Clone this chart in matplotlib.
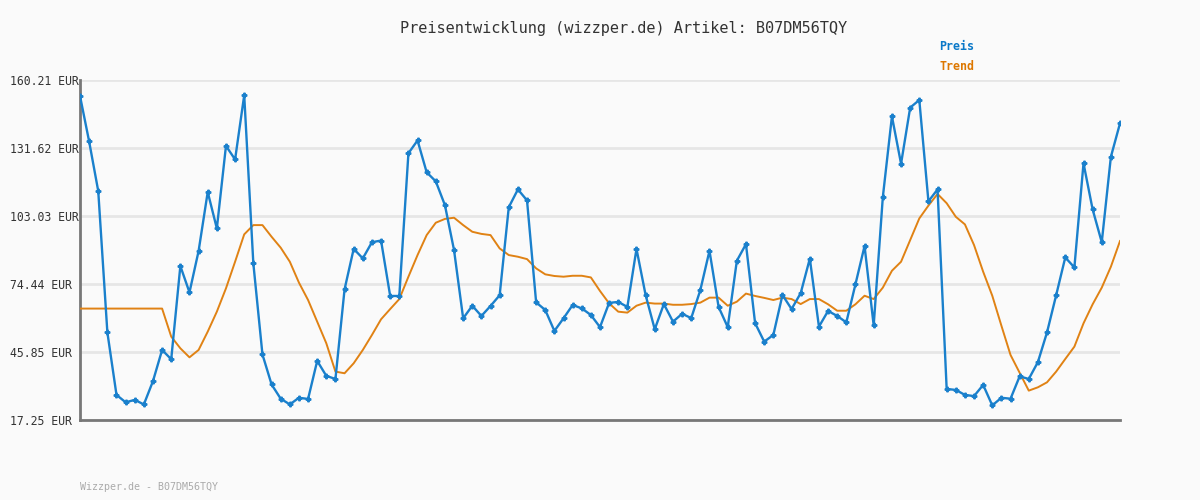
import matplotlib
matplotlib.use("Agg")
import matplotlib.pyplot as plt
import numpy as np

# price history (EUR)
preis = [153.5, 134.4, 113.5, 54.1, 27.8, 24.7, 25.7, 23.8, 33.6, 46.7,
         42.8, 82.0, 70.9, 88.3, 113.1, 97.8, 132.5, 126.8, 153.8, 83.1,
         44.8, 32.2, 26.2, 23.8, 26.6, 26.1, 42.1, 35.8, 34.5, 72.2,
         89.2, 85.2, 92.0, 92.7, 69.4, 69.4, 129.4, 134.8, 121.4, 117.6,
         107.6, 88.7, 60.0, 65.3, 61.0, 65.2, 69.7, 106.7, 114.2, 109.6,
         66.7, 63.5, 54.7, 60.0, 65.6, 64.2, 61.4, 56.3, 66.5, 66.9,
         64.8, 89.2, 69.8, 55.4, 66.0, 58.6, 61.9, 60.1, 71.9, 88.4,
         64.8, 56.3, 84.2, 91.2, 58.0, 50.2, 53.0, 69.8, 63.9, 70.6,
         85.1, 56.5, 63.1, 61.0, 58.3, 74.3, 90.4, 57.0, 110.9, 144.9,
         125.0, 148.6, 151.8, 109.2, 114.2, 30.3, 29.9, 27.8, 27.3, 32.0,
         23.4, 26.6, 26.2, 35.6, 34.5, 41.6, 54.1, 69.7, 85.6, 81.4,
         125.2, 105.8, 92.0, 127.9, 142.0]

trend = [64.1, 64.1, 64.1, 64.1, 64.1, 64.1, 64.1, 64.1, 64.1, 64.1,
         52.3, 47.4, 43.6, 46.7, 54.4, 62.8, 72.6, 83.8, 95.3, 99.2,
         99.2, 94.3, 89.7, 83.8, 75.0, 67.7, 58.6, 49.5, 37.6, 36.9,
         41.1, 46.7, 53.0, 59.6, 63.9, 68.1, 77.5, 86.6, 95.0, 100.2,
         101.8, 102.3, 99.2, 96.4, 95.5, 95.0, 89.4, 86.6, 85.9, 84.9,
         81.0, 78.5, 77.8, 77.5, 77.9, 77.9, 77.2, 71.5, 66.3, 62.8,
         62.4, 65.3, 66.6, 66.2, 66.2, 65.7, 65.7, 66.0, 66.6, 68.7,
         68.7, 65.3, 67.0, 70.4, 69.4, 68.6, 67.7, 68.7, 68.1, 66.0,
         68.1, 68.1, 65.9, 63.2, 63.2, 65.9, 69.5, 68.1, 72.9, 80.0,
         83.8, 92.9, 102.0, 107.4, 112.3, 108.4, 102.7, 99.5, 90.8, 79.6,
         69.5, 56.9, 44.6, 37.1, 29.6, 31.0, 33.1, 37.6, 42.9, 48.1,
         57.9, 65.9, 72.9, 81.7, 92.5]

y_ticks = [17.25, 45.85, 74.44, 103.03, 131.62, 160.21]
y_labels = ["%.2f EUR" % v for v in y_ticks]

artikel = "B07DM56TQY"

bg = "#fafafa"
blue = "#1a80cc"
orange = "#e08214"

plt.rcParams['font.family'] = ['DejaVu Sans Mono']

fig = plt.figure(figsize=(12, 5), dpi=100, facecolor=bg)
ax = fig.add_axes([80 / 1200, 80 / 500, 1040 / 1200, 340 / 500])
ax.set_facecolor(bg)

x = np.arange(len(preis))
ax.plot(x, trend, color=orange, lw=1.4, zorder=3)
ax.plot(x, preis, color=blue, lw=1.7, marker='P', ms=3.3, zorder=4)

ax.set_xlim(0, len(preis) - 1)
ax.set_ylim(y_ticks[0], y_ticks[-1])
ax.set_xticks([])
ax.set_yticks(y_ticks)
ax.set_yticklabels(y_labels, ha='left', fontsize=8.3, color='#333333')
ax.tick_params(axis='y', length=0, pad=50.5)
ax.grid(axis='y', color='#e6e6e6', lw=2, zorder=0)

for s in ['top', 'right']:
    ax.spines[s].set_visible(False)
for s in ['left', 'bottom']:
    ax.spines[s].set_color('#777777')
    ax.spines[s].set_linewidth(2)

fig.text(624 / 1200, 1 - 28 / 500, "Preisentwicklung (wizzper.de) Artikel: " + artikel,
         ha='center', va='center', fontsize=11, color='#333333')
fig.text(939 / 1200, 1 - 47 / 500, "Preis", ha='left', va='center',
         fontsize=8.4, color='#0a78c8', fontweight='bold')
fig.text(939 / 1200, 1 - 67 / 500, "Trend", ha='left', va='center',
         fontsize=8.4, color='#dd7700', fontweight='bold')
fig.text(80 / 1200, 1 - 487 / 500, "Wizzper.de - " + artikel, ha='left', va='center',
         fontsize=7.2, color='#aaaaaa')

fig.savefig("out.png", dpi=100, facecolor=bg)
